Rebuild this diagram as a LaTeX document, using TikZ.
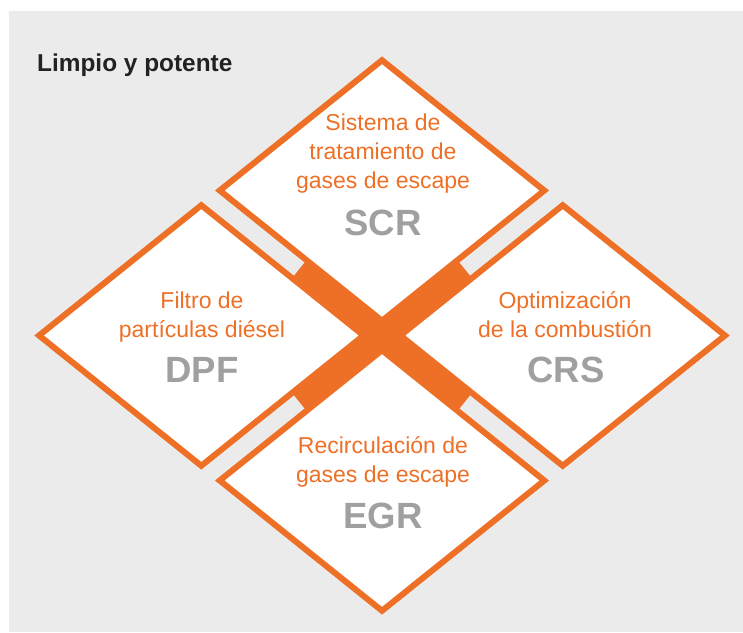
\documentclass[tikz,border=0pt]{standalone}
\usepackage{fontspec}
\setmainfont{Liberation Sans}
\usetikzlibrary{shapes.geometric}
\definecolor{naranja}{RGB}{238,112,38}
\definecolor{fondo}{RGB}{235,235,235}
\definecolor{siglas}{RGB}{160,160,160}
\definecolor{titulo}{RGB}{34,34,34}
\tikzset{
  rombo/.style={diamond, draw=naranja, fill=white, line width=6pt,
    minimum width=327pt, minimum height=263pt, inner sep=0pt},
  banda/.style={draw=naranja, line width=28pt},
  texto/.style={text=naranja, align=center, anchor=base,
    font=\fontsize{23}{29}\selectfont},
  sigla/.style={text=siglas, anchor=base,
    font=\fontsize{36.5}{40}\selectfont\bfseries}
}

\begin{document}
\begin{tikzpicture}[x=1pt,y=-1pt]
\useasboundingbox (0,0) rectangle (743,632);
\fill[fondo] (9,11) rectangle (743,632);
\node[anchor=base west, inner sep=0pt, text=titulo,
  font=\fontsize{24.4}{28}\selectfont\bfseries] (titulo) at (37,71) {Limpio y potente};

% cruz naranja entre los rombos
\coordinate (nw) at (299.2,269.2);
\coordinate (se) at (464.8,401.8);
\coordinate (ne) at (464.8,269.2);
\coordinate (sw) at (299.2,401.8);
\draw[banda] (nw) -- (se);
\draw[banda] (ne) -- (sw);

\foreach \nombre/\x/\y in {scr/382/190.5, dpf/201.3/335.5, crs/562.7/335.5, egr/382/480.5}
    {\node[rombo] (\nombre) at (\x,\y) {};}

% la linea base es la de la ultima linea
\node[texto] (scrtxt) at (383,188) {Sistema de\\tratamiento de\\gases de escape};
\node[sigla] (scrsig) at (383,235) {SCR};
\node[texto] (dpftxt) at (202,337) {Filtro de\\partículas diésel};
\node[sigla] (dpfsig) at (202,382) {DPF};
\node[texto] (crstxt) at (565,337) {Optimización\\de la combustión};
\node[sigla] (crssig) at (566,382) {CRS};
\node[texto] (egrtxt) at (383,482) {Recirculación de\\gases de escape};
\node[sigla] (egrsig) at (383,528) {EGR};
\end{tikzpicture}
\end{document}
